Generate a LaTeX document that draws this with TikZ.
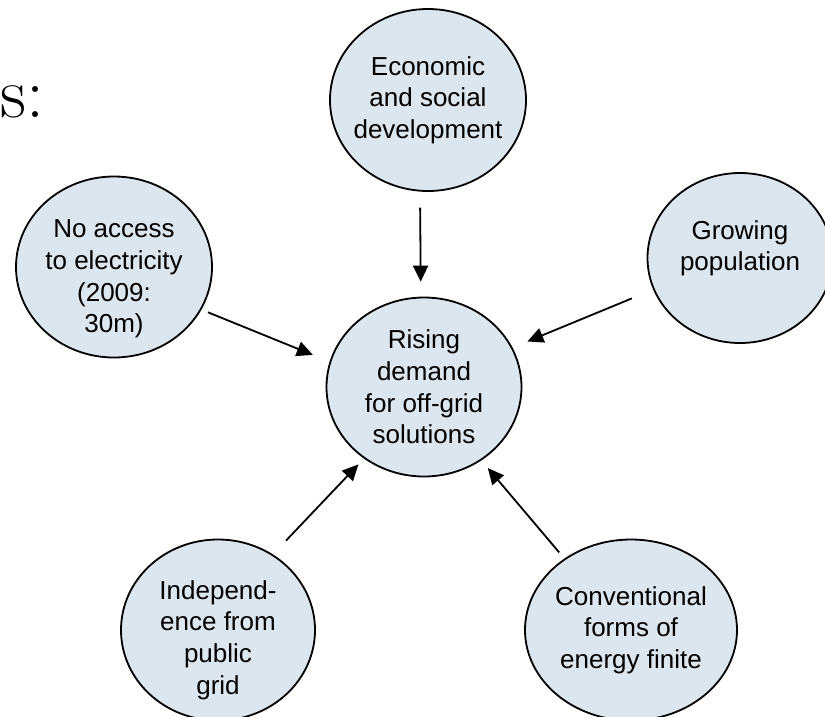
\documentclass[tikz,border=0pt]{standalone}
\usepackage{fontspec}
\newfontfamily\arialfont{Liberation Sans}
\usepackage{tikz}
\usetikzlibrary{arrows.meta,shapes.geometric}
\definecolor{bubblefill}{RGB}{220,230,238}

\begin{document}
\begin{tikzpicture}[x=1pt,y=-1pt,->,>={Triangle[length=16pt,width=15pt]},line width=1.8pt]
\tikzstyle{bubble}=[ellipse,draw=black,fill=bubblefill,inner sep=-6pt,align=center,
  font=\arialfont\fontsize{26}{31.7}\selectfont]
\useasboundingbox (0,0) rectangle (825,716);
\node[anchor=base west,inner sep=0pt,font=\fontsize{72}{80}\selectfont] (head) at (0,117) {s:};
\node[bubble,minimum width=196pt,minimum height=182pt] (E) at (428,100) {Economic\\and social\\development};
\node[bubble,inner ysep=-20pt,minimum width=196pt,minimum height=181pt] (N) at (114,267) {\rule{0pt}{42pt}No access\\to electricity\\(2009:\\30m)};
\node[bubble,minimum width=195pt,minimum height=179pt] (R) at (424,387) {Rising\\demand\\for off-grid\\solutions};
\node[bubble,minimum width=185pt,minimum height=170pt] (G) at (740,258) {Growing\\population\rule[-25pt]{0pt}{25pt}};
\node[bubble,inner ysep=-20pt,minimum width=194pt,minimum height=181pt] (I) at (218,630) {\rule{0pt}{39pt}Independ-\\ence from\\public\\grid};
\node[bubble,minimum width=212pt,minimum height=181pt] (C) at (631,630) {Conventional\\forms of\\energy finite};
\path (E.265) edge [shorten <=16pt,shorten >=15pt] (R.92);
\path (N.-26) edge [shorten <=7pt,shorten >=18pt] (R.165);
\path (G.200) edge [shorten <=23pt,shorten >=16pt] (R.24);
\path (I.54)  edge [shorten <=19pt,shorten >=8pt] (R.230);
\path (C.133) edge [shorten <=8pt,shorten >=10pt] (R.-52);
\end{tikzpicture}
\end{document}
